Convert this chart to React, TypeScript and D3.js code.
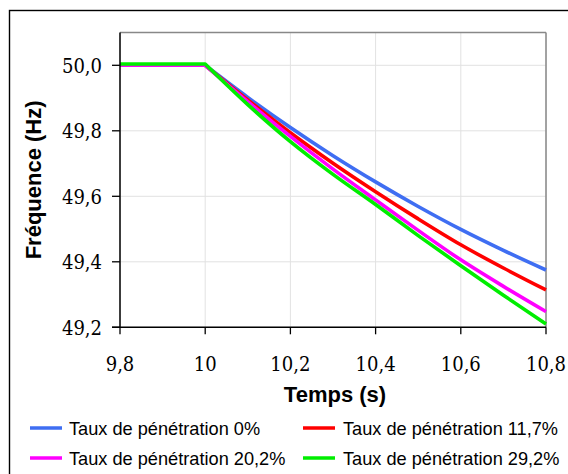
import React from "react";
import * as d3 from "d3";

const times = [9.8, 10.0, 10.1, 10.2, 10.3, 10.4, 10.5, 10.6, 10.7, 10.8];
const blue = [50.0, 50.0, 49.902, 49.81, 49.724, 49.644, 49.569, 49.499, 49.435, 49.375];
const red = [50.0, 50.0, 49.894, 49.794, 49.701, 49.614, 49.531, 49.452, 49.381, 49.314];
const magenta = [50.0, 50.0, 49.889, 49.783, 49.683, 49.589, 49.496, 49.406, 49.325, 49.248];
const green = [50.004, 50.004, 49.88, 49.767, 49.667, 49.575, 49.48, 49.388, 49.298, 49.21];

const seriesNames = [
  "Taux de pénétration 0%",
  "Taux de pénétration 11,7%",
  "Taux de pénétration 20,2%",
  "Taux de pénétration 29,2%",
];
const seriesColors = ["#3f6ef2", "#ff0000", "#ff00ff", "#00ee00"];
const seriesValues = [blue, red, magenta, green];

const xTicks = [9.8, 10.0, 10.2, 10.4, 10.6, 10.8];
const yTicks = [49.2, 49.4, 49.6, 49.8, 50.0];

const fmtX = (v: number) => (Math.abs(v - 10) < 1e-9 ? "10" : v.toFixed(1).replace(".", ","));
const fmtY = (v: number) => v.toFixed(1).replace(".", ",");

export default function App() {
  const W = 568, H = 474;
  const left = 120, right = 546, top = 32.5, bottom = 327.3;
  const x = d3.scaleLinear().domain([9.8, 10.8]).range([left, right]);
  const y = d3.scaleLinear().domain([49.2, 50.0]).range([bottom, 65.3]);

  const flatLine = d3
    .line<[number, number]>()
    .x((d) => x(d[0]))
    .y((d) => y(d[1]));
  const smoothLine = d3
    .line<[number, number]>()
    .x((d) => x(d[0]))
    .y((d) => y(d[1]))
    .curve(d3.curveMonotoneX);

  const pathFor = (vals: number[]) => {
    const pts = vals.map((v, i) => [times[i], v] as [number, number]);
    const a = flatLine(pts.slice(0, 2)) || "";
    const b = smoothLine(pts.slice(1)) || "";
    return a + b.replace(/^M/, "L");
  };

  const serif = "DejaVu Serif Condensed, DejaVu Serif, serif";
  const sans = "Liberation Sans, Arial, Helvetica, sans-serif";

  const legendPos = [
    { lx: 30, tx: 69, y: 428 },
    { lx: 303, tx: 343, y: 428 },
    { lx: 30, tx: 69, y: 458 },
    { lx: 303, tx: 343, y: 458 },
  ];

  return (
    <svg
      width={W}
      height={H}
      style={{ position: "absolute", left: 0, top: 0, background: "#fff" }}
    >
      <rect x={0} y={0} width={W} height={H} fill="#fff" />
      <rect x={9.5} y={10.5} width={W + 10} height={H + 10} fill="none" stroke="#000" strokeWidth={1.4} />

      {xTicks.map((t) => (
        <line key={"gx" + t} x1={x(t)} x2={x(t)} y1={top} y2={bottom} stroke="#e2e2e2" strokeWidth={1} />
      ))}
      {yTicks.map((t) => (
        <line key={"gy" + t} x1={left} x2={right} y1={y(t)} y2={y(t)} stroke="#e2e2e2" strokeWidth={1} />
      ))}

      <line x1={left} x2={right} y1={top} y2={top} stroke="#888" strokeWidth={1.5} />
      <line x1={right} x2={right} y1={top} y2={bottom} stroke="#888" strokeWidth={1.5} />

      {seriesValues.map((vals, i) => (
        <path
          key={"s" + i}
          d={pathFor(vals)}
          fill="none"
          stroke={seriesColors[i]}
          strokeWidth={3.6}
          strokeLinejoin="round"
        />
      ))}

      <line x1={left} x2={left} y1={top} y2={bottom} stroke="#000" strokeWidth={1.5} />
      <line x1={left - 8} x2={right} y1={bottom} y2={bottom} stroke="#000" strokeWidth={1.5} />
      {yTicks.map((t) => (
        <g key={"yt" + t}>
          <line x1={left - 8} x2={left} y1={y(t)} y2={y(t)} stroke="#000" strokeWidth={1.3} />
          <text x={102} y={y(t) + 7.5} textAnchor="end" style={{ fontFamily: serif, fontSize: 20 }} fill="#000">
            {fmtY(t)}
          </text>
        </g>
      ))}
      {xTicks.map((t) => (
        <g key={"xt" + t}>
          <line x1={x(t)} x2={x(t)} y1={bottom} y2={bottom + 7} stroke="#000" strokeWidth={1.3} />
          <text x={x(t)} y={371} textAnchor="middle" style={{ fontFamily: serif, fontSize: 20 }} fill="#000">
            {fmtX(t)}
          </text>
        </g>
      ))}

      <text x={335} y={402} textAnchor="middle" style={{ fontFamily: sans, fontWeight: "bold", fontSize: 22 }} fill="#000">
        Temps (s)
      </text>
      <text
        transform={`translate(41, ${(top + bottom) / 2}) rotate(-90)`}
        textAnchor="middle"
        style={{ fontFamily: sans, fontWeight: "bold", fontSize: 22 }}
        fill="#000"
      >
        Fréquence (Hz)
      </text>

      {seriesNames.map((name, i) => (
        <g key={"lg" + i}>
          <line
            x1={legendPos[i].lx}
            x2={legendPos[i].lx + 32}
            y1={legendPos[i].y}
            y2={legendPos[i].y}
            stroke={seriesColors[i]}
            strokeWidth={3.5}
          />
          <text x={legendPos[i].tx} y={legendPos[i].y + 7} style={{ fontFamily: sans, fontSize: 18.2 }} fill="#000">
            {name}
          </text>
        </g>
      ))}
    </svg>
  );
}
